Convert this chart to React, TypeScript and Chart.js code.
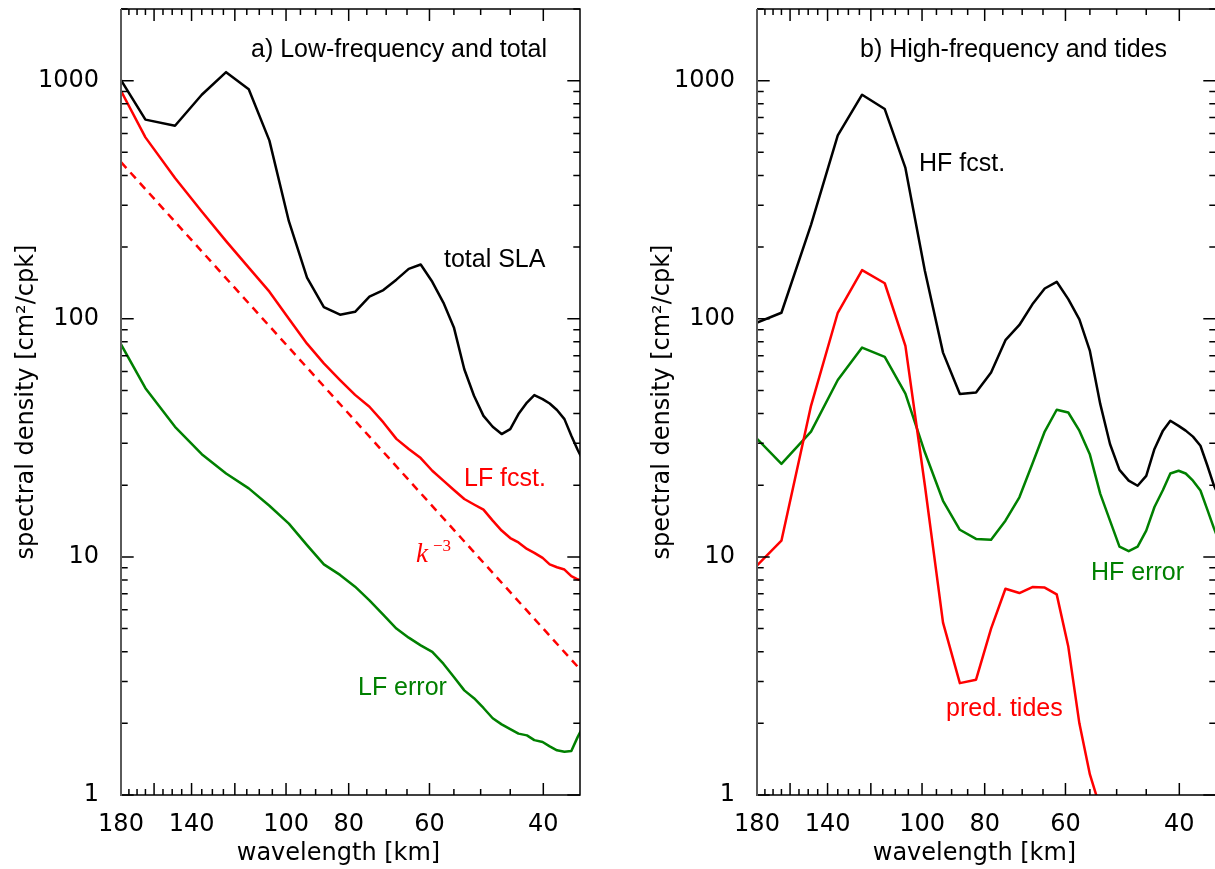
import React, { useEffect, useRef } from "react";
import { Chart, registerables } from "chart.js";

Chart.register(...registerables);

// ---------- data ----------
// wavelengths (km) of the spectral estimates
const wavelengthKm = [
  185.6, 165.0, 148.5, 135.0, 123.8, 114.2, 106.1, 99.0, 92.8, 87.4, 82.5, 78.2,
  74.3, 70.7, 67.5, 64.6, 61.9, 59.4, 57.1, 55.0, 53.0, 51.2, 49.5, 47.9, 46.4,
  45.0, 43.7, 42.4, 41.3, 40.1, 39.1, 38.1, 37.1, 36.2, 35.4, 34.5,
];

// panel a
const totalSLA = [
  1150, 686, 647, 873, 1086, 921, 560, 257, 149, 112, 104, 107, 124, 132, 146,
  162, 169, 143, 117, 92, 61.4, 47.5, 39.1, 35.2, 32.8, 34.4, 39.8, 44.5, 47.8,
  46.0, 44.1, 41.4, 37.9, 32.3, 28.2, 24.5,
];
const lfForecast = [
  1062, 578, 390, 282, 212, 164, 130, 100, 78.6, 65, 55.3, 47.9, 42.7, 36.7,
  31.3, 28.4, 26.0, 23.0, 20.9, 19.1, 17.5, 16.6, 15.8, 14.2, 12.9, 12.0, 11.5,
  10.8, 10.4, 9.9, 9.3, 9.05, 8.85, 8.3, 8.05, 7.9,
];
const lfError = [
  90.7, 51.1, 35.2, 27.0, 22.4, 19.4, 16.4, 13.8, 11.2, 9.3, 8.4, 7.5, 6.57,
  5.71, 5.0, 4.58, 4.25, 3.99, 3.56, 3.13, 2.75, 2.55, 2.32, 2.1, 1.98, 1.89,
  1.81, 1.78, 1.7, 1.67, 1.6, 1.54, 1.52, 1.53, 1.75, 2.0,
];
const kSlopeWavelength = [180, 35];
const kSlopeValues = [455, 3.345];

// panel b
const hfForecast = [
  93.1, 106, 248, 589, 873, 760, 430, 159, 72.1, 48.3, 49.0, 59.5, 81.3, 94.2,
  115, 134, 143, 121, 99.5, 73.3, 43.8, 29.8, 23.2, 20.9, 19.9, 21.9, 28.4,
  33.9, 37.3, 35.5, 33.9, 32.0, 29.3, 24.2, 20.1, 17.2,
];
const predTides = [
  8.46, 11.7, 43.1, 106, 160, 141, 76.9, 20, 5.3, 2.95, 3.05, 5.0, 7.35, 7.05,
  7.47, 7.43, 6.96, 4.2, 2.0, 1.22, 0.88, null, null, null, null, null, null,
  null, null, null, null, null, null, null, null, null,
];
const hfError = [
  34.1, 24.6, 33.6, 55.3, 75.7, 69.2, 48.5, 27.5, 17.2, 13.0, 11.9, 11.8, 14.2,
  17.8, 24.6, 33.6, 41.5, 40.4, 33.9, 26.9, 18.4, 14.2, 11.05, 10.57, 11.05,
  12.9, 16.2, 19.1, 22.4, 23.0, 22.4, 20.9, 19.0, 15.8, 13.3, 11.1,
];

// axes
const xTickLabels = [180, 140, 100, 80, 60, 40];
const xMajorTicks = [180, 160, 140, 120, 100, 80, 60, 40];
const xMinorTicks = [
  175, 170, 165, 155, 150, 145, 135, 130, 125, 115, 110, 105, 95, 90, 85, 75, 70,
  65, 55, 50, 45,
];
const yTickLabels = [1, 10, 100, 1000];
const yMin = 1;
const yMax = 2000;
const xMinKm = 35.1;
const xMaxKm = 180;

const RED = "#ff0000";
const GREEN = "#008000";
const BLACK = "#000000";

const LABEL_FONT = '25px "Liberation Sans", Arial, sans-serif';
const AXIS_FONT = '24px "DejaVu Sans", sans-serif';

type Txt = { text: string; x: number; y: number; color: string; font?: string };

function pts(xs: number[], ys: (number | null)[]) {
  const out: { x: number; y: number }[] = [];
  xs.forEach((x, i) => {
    const v = ys[i];
    if (v !== null && v !== undefined) out.push({ x, y: v });
  });
  return out;
}

const framePlugin = {
  id: "frame",
  afterDraw(chart: any, _args: any, opts: any) {
    const { ctx, chartArea: a, scales } = chart;
    const x = scales.x;
    const y = scales.y;
    ctx.save();
    ctx.strokeStyle = "#000";
    ctx.lineWidth = 1.5;
    ctx.beginPath();
    // y ticks (inward, both sides)
    for (let d = 1; d <= 1000; d *= 10) {
      for (let m = 1; m <= 9; m++) {
        const v = m * d;
        if (v < yMin || v > yMax) continue;
        const py = y.getPixelForValue(v);
        const len = m === 1 ? 12.7 : 6.7;
        ctx.moveTo(a.left, py);
        ctx.lineTo(a.left + len, py);
        ctx.moveTo(a.right - len, py);
        ctx.lineTo(a.right, py);
      }
    }
    // x ticks (inward, bottom and top)
    const xt = [
      ...xMajorTicks.map((v) => ({ v, len: 12 })),
      ...xMinorTicks.map((v) => ({ v, len: 6 })),
    ];
    xt.forEach(({ v, len }) => {
      const px = x.getPixelForValue(v);
      ctx.moveTo(px, a.bottom);
      ctx.lineTo(px, a.bottom - len);
      ctx.moveTo(px, a.top);
      ctx.lineTo(px, a.top + len);
    });
    ctx.stroke();

    // frame
    ctx.lineWidth = 1.5;
    ctx.strokeStyle = "#000";
    ctx.beginPath();
    ctx.moveTo(a.left, a.top);
    ctx.lineTo(a.right, a.top);
    ctx.lineTo(a.right, a.bottom);
    ctx.lineTo(a.left, a.bottom);
    ctx.stroke();
    ctx.lineWidth = 2;
    ctx.strokeStyle = "#5a5a5a";
    ctx.beginPath();
    ctx.moveTo(a.left, a.top);
    ctx.lineTo(a.left, a.bottom + 1);
    ctx.stroke();

    // axis titles
    ctx.fillStyle = "#000";
    ctx.font = AXIS_FONT;
    ctx.textAlign = "center";
    ctx.textBaseline = "alphabetic";
    ctx.fillText("wavelength [km]", (a.left + a.right) / 2 - 12, 860);
    ctx.save();
    ctx.translate(opts.yTitleX, (a.top + a.bottom) / 2);
    ctx.rotate(-Math.PI / 2);
    ctx.fillText("spectral density [cm²/cpk]", 0, 0);
    ctx.restore();

    // annotations
    ctx.textAlign = "left";
    (opts.texts as Txt[]).forEach((t) => {
      ctx.font = t.font || LABEL_FONT;
      ctx.fillStyle = t.color;
      ctx.fillText(t.text, t.x, t.y);
    });
    ctx.restore();
  },
};

type PanelProps = {
  datasets: any[];
  texts: Txt[];
  left: number;
};

function Panel({ datasets, texts, left }: PanelProps) {
  const ref = useRef<HTMLCanvasElement | null>(null);
  useEffect(() => {
    if (!ref.current) return;
    const chart = new Chart(ref.current, {
      type: "line",
      data: { datasets },
      options: {
        animation: false,
        responsive: false,
        maintainAspectRatio: false,
        devicePixelRatio: 1,
        layout: { padding: { top: 9, right: 20, left: 0, bottom: 0 } },
        elements: { point: { radius: 0 }, line: { tension: 0 } },
        plugins: {
          legend: { display: false },
          tooltip: { enabled: false },
          title: { display: false },
          frame: { texts, yTitleX: 33 },
        } as any,
        scales: {
          x: {
            type: "logarithmic",
            reverse: true,
            min: xMinKm,
            max: xMaxKm,
            grid: { display: false },
            border: { display: false },
            afterBuildTicks: (s: any) => {
              s.ticks = xTickLabels.map((v) => ({ value: v }));
            },
            afterFit: (s: any) => {
              s.height = 74;
              s.paddingLeft = 0;
              s.paddingRight = 0;
            },
            ticks: {
              autoSkip: false,
              maxRotation: 0,
              padding: 7,
              color: "#000",
              font: { family: '"DejaVu Sans", sans-serif', size: 24 },
              callback: (v: any) => String(v),
            },
          },
          y: {
            type: "logarithmic",
            min: yMin,
            max: yMax,
            grid: { display: false },
            border: { display: false },
            afterBuildTicks: (s: any) => {
              s.ticks = yTickLabels.map((v) => ({ value: v }));
            },
            afterFit: (s: any) => {
              s.width = 121;
              s.paddingTop = 0;
              s.paddingBottom = 0;
            },
            ticks: {
              padding: 14,
              color: "#000",
              font: { family: '"DejaVu Sans", sans-serif', size: 24 },
              callback: (v: any) => String(v),
            },
          },
        },
      } as any,
      plugins: [framePlugin as any],
    });
    return () => chart.destroy();
  }, []);
  return (
    <canvas
      ref={ref}
      width={600}
      height={869}
      style={{ position: "absolute", left, top: 0, width: 600, height: 869 }}
    />
  );
}

const lineStyle = (color: string) => ({
  borderColor: color,
  backgroundColor: color,
  borderWidth: 2.5,
  borderJoinStyle: "round",
  pointRadius: 0,
  fill: false,
  clip: 0,
});

export default function App() {
  const leftSets = [
    { label: "total SLA", data: pts(wavelengthKm, totalSLA), ...lineStyle(BLACK) },
    { label: "LF fcst.", data: pts(wavelengthKm, lfForecast), ...lineStyle(RED) },
    {
      label: "k^-3",
      data: pts(kSlopeWavelength, kSlopeValues),
      ...lineStyle(RED),
      borderDash: [8, 6],
    },
    { label: "LF error", data: pts(wavelengthKm, lfError), ...lineStyle(GREEN) },
  ];
  const rightSets = [
    { label: "HF fcst.", data: pts(wavelengthKm, hfForecast), ...lineStyle(BLACK) },
    { label: "pred. tides", data: pts(wavelengthKm, predTides), ...lineStyle(RED) },
    { label: "HF error", data: pts(wavelengthKm, hfError), ...lineStyle(GREEN) },
  ];
  const leftTexts: Txt[] = [
    { text: "a) Low-frequency and total", x: 251, y: 57, color: BLACK },
    { text: "total SLA", x: 444, y: 267, color: BLACK },
    { text: "LF fcst.", x: 464, y: 486, color: RED },
    { text: "LF error", x: 358, y: 695, color: GREEN },
    { text: "k", x: 416, y: 562, color: RED, font: 'italic 27px "Liberation Serif", serif' },
    { text: "−3", x: 433, y: 551, color: RED, font: '17px "Liberation Serif", serif' },
  ];
  const rightTexts: Txt[] = [
    { text: "b) High-frequency and tides", x: 224, y: 57, color: BLACK },
    { text: "HF fcst.", x: 283, y: 171, color: BLACK },
    { text: "HF error", x: 455, y: 580, color: GREEN },
    { text: "pred. tides", x: 310, y: 716, color: RED },
  ];
  return (
    <div
      style={{
        position: "fixed",
        left: 0,
        top: 0,
        width: 1215,
        height: 869,
        overflow: "hidden",
        background: "#fff",
      }}
    >
      <Panel datasets={leftSets} texts={leftTexts} left={0} />
      <Panel datasets={rightSets} texts={rightTexts} left={636} />
    </div>
  );
}
